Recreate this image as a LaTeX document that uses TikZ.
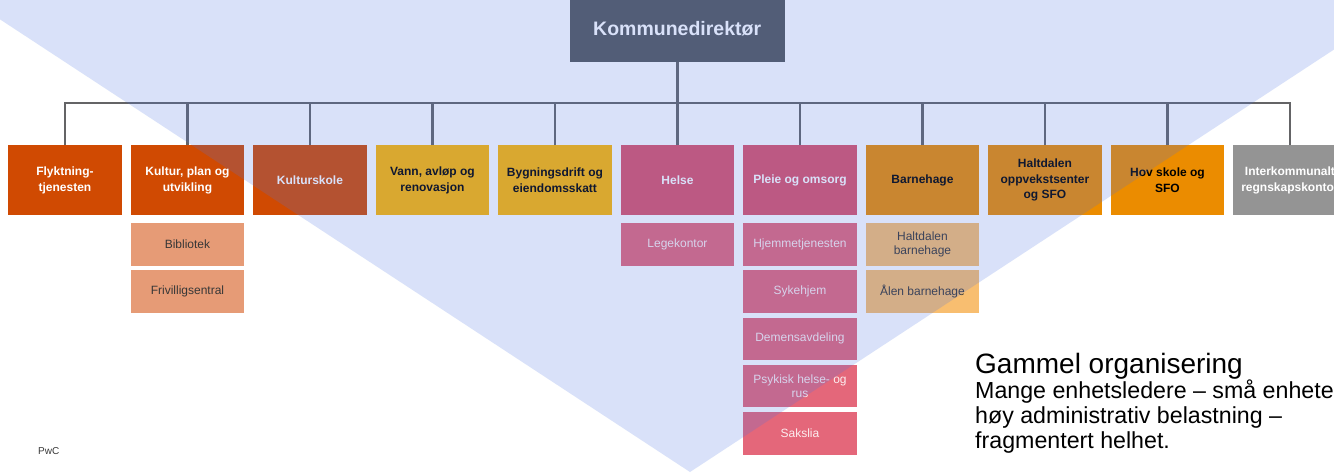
\documentclass[tikz,border=0pt]{standalone}
\usepackage{fontspec}
\setmainfont{Liberation Sans}
\definecolor{pwcorange}{HTML}{D04A02}
\definecolor{pwcyellow}{HTML}{FFB600}
\definecolor{pwcrose}{HTML}{DB536A}
\definecolor{pwcroselight}{HTML}{E4677A}
\definecolor{pwctang}{HTML}{EB8C00}
\definecolor{pwctanglight}{HTML}{F8BE70}
\definecolor{pwcorlight}{HTML}{E69B76}
\definecolor{pwcgray}{HTML}{949494}
\definecolor{topgray}{RGB}{84,87,91}
\definecolor{linegray}{RGB}{100,100,102}
\definecolor{tri}{RGB}{76,116,227}
\definecolor{subtext}{RGB}{55,55,55}
\begin{document}
\begin{tikzpicture}[x=1pt,y=-1pt,
  box/.style={anchor=north west, minimum width=113.5pt, minimum height=70pt, inner sep=0pt, align=center, font=\bfseries\fontsize{12}{15.5}\selectfont},
  darkbox/.style={box, text=black},
  lightbox/.style={box, text=white},
  sub/.style={anchor=north west, minimum width=113.5pt, minimum height=42.5pt, inner sep=0pt, align=center, font=\fontsize{12}{14}\selectfont},
  subdark/.style={sub, text=subtext},
  sublight/.style={sub, text=white!88!pwcroselight},
  conn/.style={draw=linegray, line width=2.6pt, line join=miter},
]
\useasboundingbox (0,0) rectangle (1334,472);
\fill[white] (0,0) rectangle (1334,472);
\begin{scope}
\clip (0,0) rectangle (1334,472);
% top box
\node[anchor=north west, minimum width=215pt, minimum height=62pt, inner sep=0pt, text depth=6pt,
      fill=topgray, text=white, font=\bfseries\fontsize{19.5}{22}\selectfont] (top) at (569.5,0) {Kommunedirektør};
\coordinate (bus) at (0,103);
% main row
\node[lightbox, fill=pwcorange] (b0) at (8,145) {Flyktning-\\tjenesten};
\node[lightbox, fill=pwcorange] (b1) at (130.5,145) {Kultur, plan og\\utvikling};
\node[lightbox, fill=pwcorange] (b2) at (253,145) {Kulturskole};
\node[darkbox, fill=pwcyellow] (b3) at (375.5,145) {Vann, avløp og\\renovasjon};
\node[darkbox, fill=pwcyellow] (b4) at (498,145) {Bygningsdrift og\\eiendomsskatt};
\node[lightbox, fill=pwcrose] (b5) at (620.5,145) {Helse};
\node[lightbox, fill=pwcrose] (b6) at (743,145) {Pleie og omsorg};
\node[darkbox, fill=pwctang] (b7) at (865.5,145) {Barnehage};
\node[darkbox, fill=pwctang] (b8) at (988,145) {Haltdalen\\oppvekstsenter\\og SFO};
\node[darkbox, fill=pwctang] (b9) at (1110.5,145) {Hov skole og\\SFO};
\node[lightbox, fill=pwcgray] (b10) at (1233,145) {Interkommunalt\\regnskapskontor};
% connectors
\foreach \i in {0,...,10}{
  \draw[conn] (b\i.north) -- (b\i.north |- bus) -| (top.south);
}
% sub boxes
\node[subdark, fill=pwcorlight] (s11) at (130.5,223) {Bibliotek};
\node[subdark, fill=pwcorlight] (s12) at (130.5,270.2) {Frivilligsentral};
\node[sublight, fill=pwcroselight] (s51) at (620.5,223) {Legekontor};
\node[sublight, fill=pwcroselight] (s61) at (743,223) {Hjemmetjenesten};
\node[sublight, fill=pwcroselight] (s62) at (743,270.2) {Sykehjem};
\node[sublight, fill=pwcroselight] (s63) at (743,317.4) {Demensavdeling};
\node[sublight, fill=pwcroselight] (s64) at (743,364.6) {Psykisk helse- og\\rus};
\node[sublight, fill=pwcroselight] (s65) at (743,411.8) {Sakslia};
\node[subdark, fill=pwctanglight] (s71) at (865.5,223) {Haltdalen\\barnehage};
\node[subdark, fill=pwctanglight] (s72) at (865.5,270.2) {Ålen barnehage};
% overlay triangle
\fill[tri, opacity=0.213] (-29.5,0) -- (1409.5,0) -- (690,472) -- cycle;
% texts
\node[anchor=base west, inner sep=0pt, font=\fontsize{28}{30}\selectfont] (t1) at (975,373) {Gammel organisering};
\node[anchor=base west, inner sep=0pt, font=\fontsize{23.2}{25}\selectfont] (t2) at (975,398) {Mange enhetsledere – små enheter –};
\node[anchor=base west, inner sep=0pt, font=\fontsize{23.2}{25}\selectfont] (t3) at (975,423) {høy administrativ belastning –};
\node[anchor=base west, inner sep=0pt, font=\fontsize{23.2}{25}\selectfont] (t4) at (975,448) {fragmentert helhet.};
\node[anchor=base west, inner sep=0pt, text=subtext, font=\fontsize{10}{12}\selectfont] (pwc) at (38,454) {PwC};
\end{scope}
\end{tikzpicture}
\end{document}
